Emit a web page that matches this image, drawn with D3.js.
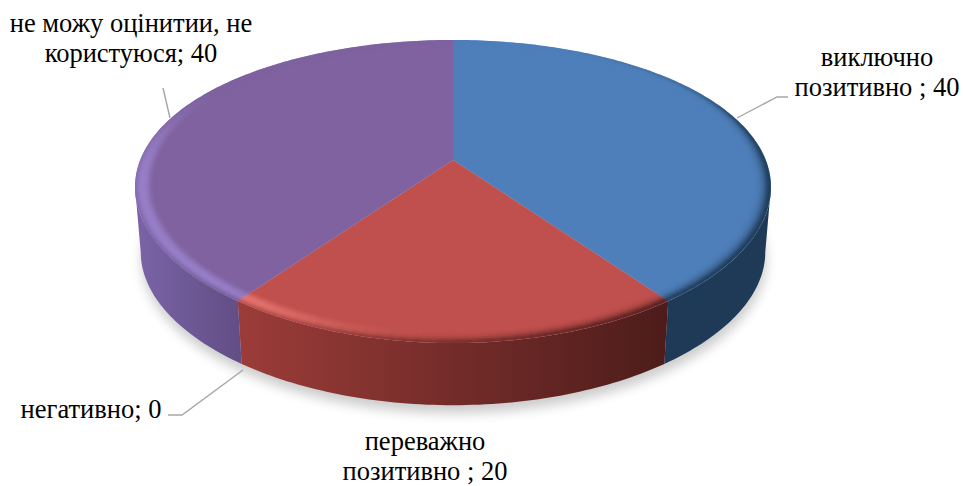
<!DOCTYPE html>
<html><head><meta charset="utf-8">
<script src="https://cdn.jsdelivr.net/npm/d3@7/dist/d3.min.js"></script>
<style>html,body{margin:0;padding:0;background:#fff}svg{display:block}</style>
</head><body><svg id="c" width="963" height="486"></svg>
<script>
const categories = ["виключно позитивно", "переважно позитивно", "негативно", "не можу оцінити, не користуюся"];
const values = [40, 20, 0, 40];
const faceColors = ["#4e7fba", "#c0504d", "#9bbb59", "#7f629f"];
const lightColors = ["#5f92cf", "#ee7c76", "#9bbb59", "#9a82cc"];
const sideStops = [["#1f3a57", "#1f3a57"], ["#9c3c39", "#4c1c1a"], ["#5a7030", "#5a7030"], ["#7a64a8", "#624d84"]];

const labelLines = [["виключно", "позитивно ; 40"], ["переважно", "позитивно ; 20"], ["негативно; 0"], ["не можу оцінитии, не", "користуюся; 40"]];
const labelPos = [[877, 66], [425, 450], [91, 418], [131, 32]];
const leaders = [
  [[737, 118], [777, 97], [788, 97]],
  [],
  [[243, 370], [182, 415], [168, 415]],
  [[170, 118], [163, 88]]
];

const svg = d3.select("#c");
const cx = 453, hubY = 160, R = 312.8, A = 145, C = -0.208, CX = -0.18, K = 0.982, DY = 65.4;
const rad = d3.scaleLinear().domain([0, 360]).range([0, 2 * Math.PI]);

function project(theta, r, depth) {
  const x = r * Math.sin(theta), y = -r * Math.cos(theta);
  const X = R * x / (1 + CX * y), Y = A * y / (1 + C * y);
  return depth ? [cx + X * K, hubY + Y * K + DY] : [cx + X, hubY + Y];
}
const line = d3.line();
const closed = pts => line(pts) + "Z";
function arcPts(a0, a1, r, depth) {
  const n = Math.max(2, Math.ceil(Math.abs(a1 - a0) / rad(1)));
  return d3.range(n + 1).map(i => project(a0 + (a1 - a0) * i / n, r, depth));
}

const defs = svg.append("defs");
defs.append("filter").attr("id", "sh").attr("x", "-10%").attr("y", "-10%").attr("width", "120%").attr("height", "130%")
  .append("feGaussianBlur").attr("stdDeviation", 6);
defs.append("filter").attr("id", "soft").attr("x", "-5%").attr("y", "-5%").attr("width", "110%").attr("height", "110%")
  .append("feGaussianBlur").attr("stdDeviation", 1.1);
defs.append("clipPath").attr("id", "faceClip").append("path")
  .attr("d", closed(arcPts(0, 2 * Math.PI, 1, false)));

const pie = d3.pie().sort(null).value(d => d);
const arcs = pie(values);

// shadow
svg.append("path")
  .attr("d", closed(arcPts(0, 2 * Math.PI, 1, true).map(p => [p[0] + 1, p[1] + 8])))
  .attr("fill", "#000").attr("opacity", 0.2).attr("filter", "url(#sh)");

// side walls, up to the silhouette angle of the projected circle
const silhouette = Math.acos(CX);
const vis0 = silhouette, vis1 = 2 * Math.PI - silhouette;
const sideG = svg.append("g");
const sideExtent = [];
arcs.forEach((a, i) => {
  if (a.endAngle - a.startAngle <= 0) return;
  const s = Math.max(a.startAngle, vis0), e = Math.min(a.endAngle, vis1);
  if (e <= s) return;
  const top = arcPts(s, e, 1, false), bot = arcPts(e, s, 1, true);
  const xs = top.map(p => p[0]).concat(bot.map(p => p[0]));
  sideExtent[i] = d3.extent(xs);
  const g = defs.append("linearGradient").attr("id", "side" + i)
    .attr("gradientUnits", "userSpaceOnUse")
    .attr("x1", sideExtent[i][0]).attr("x2", sideExtent[i][1]).attr("y1", 0).attr("y2", 0);
  g.append("stop").attr("offset", 0).attr("stop-color", sideStops[i][0]);
  g.append("stop").attr("offset", 1).attr("stop-color", sideStops[i][1]);
  sideG.append("path").attr("d", closed(top.concat(bot))).attr("fill", `url(#side${i})`);
});

// top face
const faceG = svg.append("g");
arcs.forEach((a, i) => {
  if (a.endAngle - a.startAngle <= 0) return;
  const pts = [project(0, 0, false)].concat(arcPts(a.startAngle, a.endAngle, 1, false));
  faceG.append("path").attr("d", closed(pts)).attr("fill", faceColors[i]);
});

// bevelled rim
const smooth = (a, b, x) => { const t = Math.min(1, Math.max(0, (x - a) / (b - a))); return t * t * (3 - 2 * t); };
const bands = d3.range(0, 1, 1 / 6);
const rimG = svg.append("g").attr("clip-path", "url(#faceClip)").append("g").attr("filter", "url(#soft)");
const rimWidth = 0.052;
arcs.forEach((a, i) => {
  if (a.endAngle - a.startAngle <= 0) return;
  const step = rad(2);
  for (let t = a.startAngle; t < a.endAngle - 1e-6; t += step) {
    const t1 = Math.min(t + step, a.endAngle), deg = (t + t1) / 2 * 180 / Math.PI;
    const dark = smooth(50, 95, deg) * (1 - smooth(170, 215, deg));
    const light = smooth(178, 225, deg) * (1 - smooth(262, 305, deg));
    const edge = smooth(60, 100, deg) * (1 - smooth(250, 285, deg));
    const backEdge = smooth(15, 70, deg) * (1 - smooth(60, 100, deg));
    const px = project(t, 1, false)[0];
    const ext = sideExtent[i] || [px, px + 1];
    const f = Math.min(1, Math.max(0, (px - ext[0]) / (ext[1] - ext[0])));
    const sideC = d3.interpolateRgb(sideStops[i][0], sideStops[i][1])(f);
    bands.forEach(u => {
      const um = u + 1 / 12;
      let col = d3.interpolateRgb(faceColors[i], lightColors[i])(light * Math.sin(Math.PI * Math.min(1, um * 0.85)));
      col = d3.interpolateRgb(col, sideC)(Math.min(1, dark * um * um * 1.1 + edge * Math.pow(um, 6) * 0.8 + backEdge * Math.pow(um, 5) * 0.8));
      const r0 = 1 - rimWidth * (1 - u), r1 = Math.min(1.002, 1 - rimWidth * (1 - u - 1 / 6) + (u > 0.8 ? 0.01 : 0));
      const pts = [project(t, r0, false), project(t1 + 0.004, r0, false), project(t1 + 0.004, r1, false), project(t, r1, false)];
      rimG.append("path").attr("d", closed(pts)).attr("fill", col);
    });
  }
});

// leader lines
svg.append("g").selectAll("path").data(leaders.filter(l => l.length)).join("path")
  .attr("d", d => line(d)).attr("fill", "none").attr("stroke", "#a6a6a6").attr("stroke-width", 1.4);

// labels
const lh = 30;
const lab = svg.append("g").attr("font-family", "'Liberation Serif','Times New Roman',serif")
  .attr("font-size", 26.5).attr("fill", "#000").attr("text-anchor", "middle");
labelLines.forEach((ls, i) => {
  const t = lab.append("text");
  ls.forEach((s, j) => t.append("tspan").attr("x", labelPos[i][0]).attr("y", labelPos[i][1] + j * lh).text(s));
});
</script></body></html>
